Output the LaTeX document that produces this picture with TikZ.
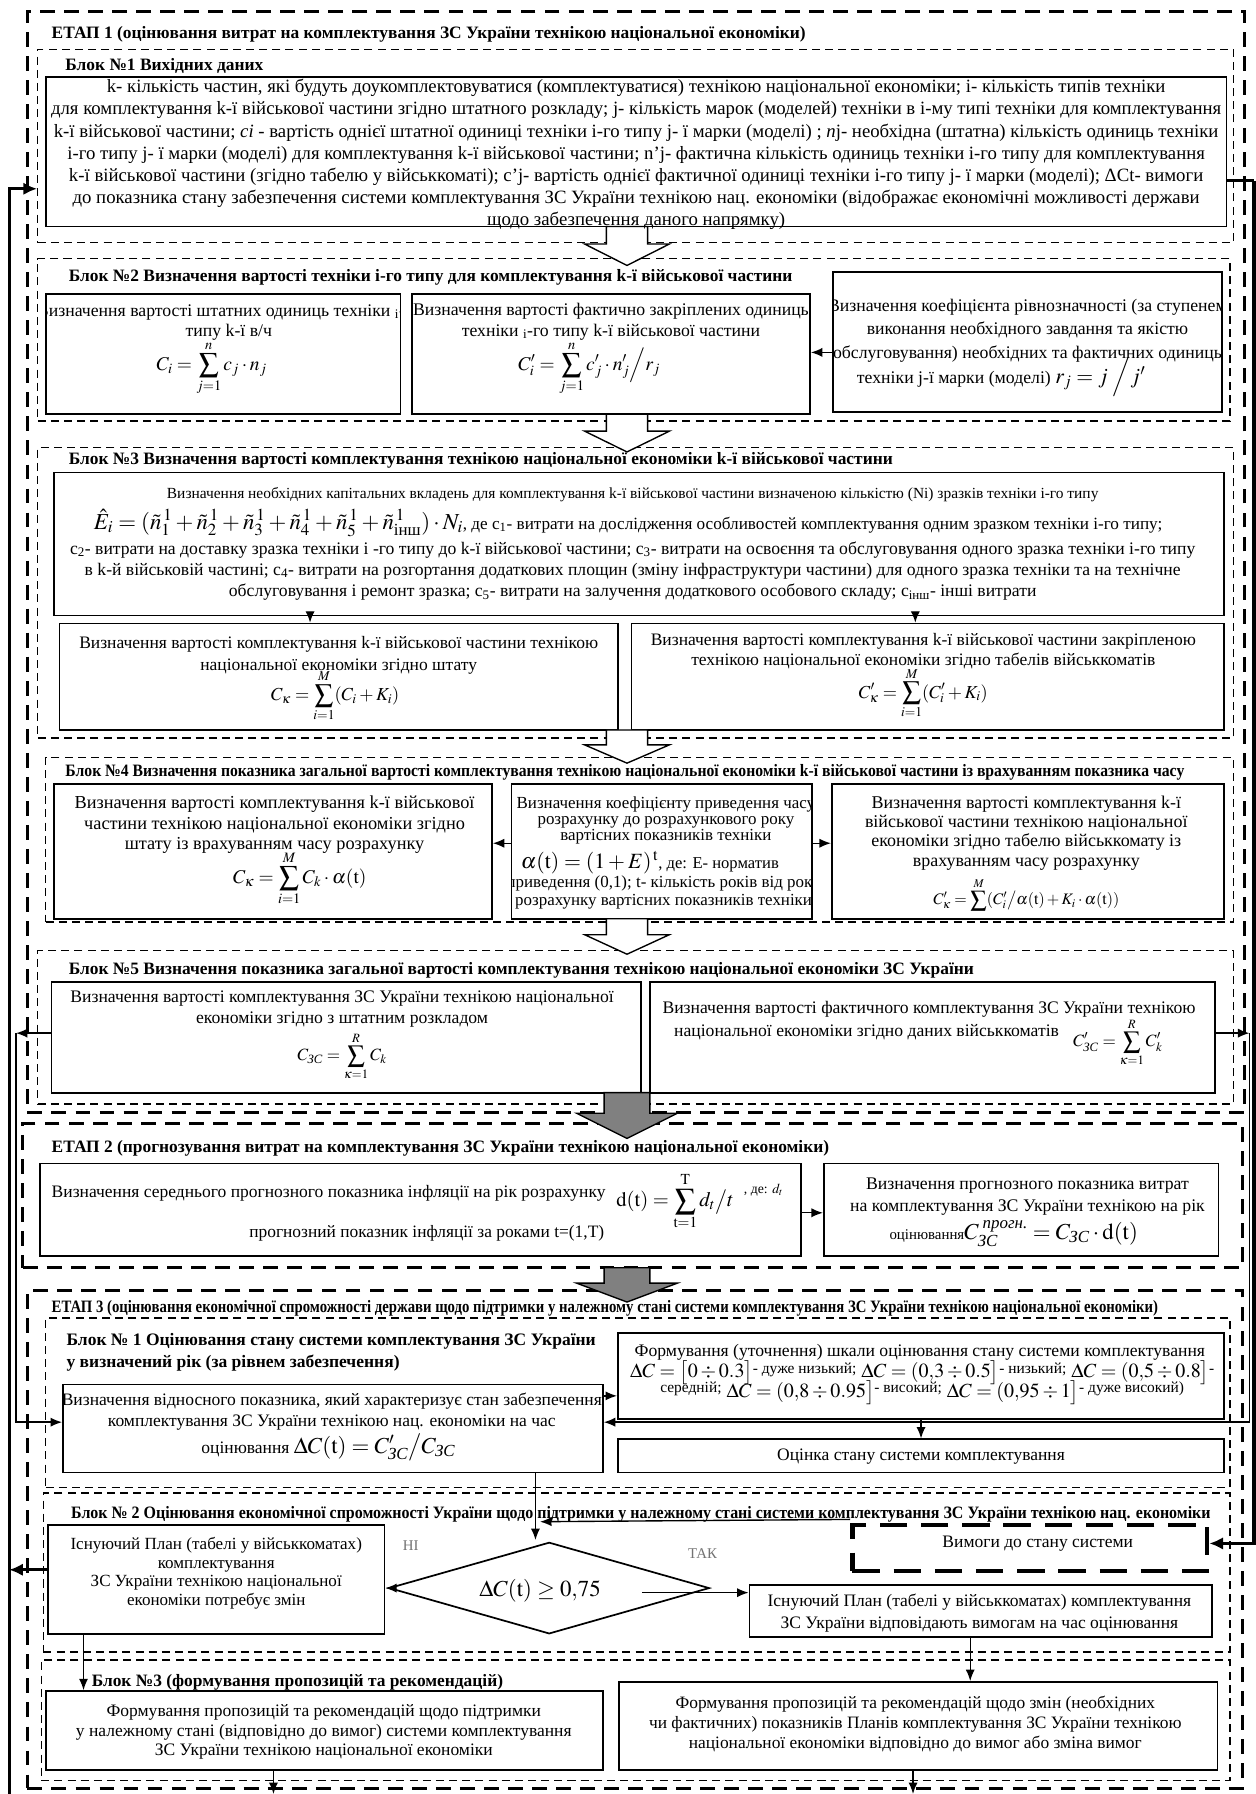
\documentclass[tikz,border=0pt]{standalone}
\usepackage{amsmath}
\usepackage{mathptmx}
\usepackage[no-math]{fontspec}
\setmainfont{Liberation Serif}
\newfontfamily\lser{Liberation Serif}
\usepackage{graphicx}
\usetikzlibrary{arrows.meta,shapes.geometric,calc}
\newcommand\fsz[2]{\lser\fontsize{#1}{#2}\selectfont}
\newcommand\mkrect[6]{\node[#6, inner sep=0pt, minimum width={#4-#2}, minimum height={#5-#3}] (#1) at ({(#2+#4)/2},{(#3+#5)/2}) {};}
\newcommand\blockarrow[5]{\pgfmathsetmacro\hymid{#1+0.45*(#2-#1)}%
 \draw[#3] ({548-#4},#1) -- ({548-#4},\hymid) -- ({548-#5},\hymid) -- (548,#2) -- ({548+#5},\hymid) -- ({548+#4},\hymid) -- ({548+#4},#1) -- cycle;}
\begin{document}
\begin{tikzpicture}[x=1pt,y=-1pt,
  stageframe/.style={draw, line width=2.8pt, dash pattern=on 13pt off 8pt},
  blkframe/.style={draw, line width=1.2pt, dash pattern=on 7pt off 4.5pt},
  bx/.style={draw, line width=1.5pt, fill=white},
  vbox/.style={draw, line width=4pt, dash pattern=on 24pt off 12pt, fill=white},
  txt/.style={inner sep=0pt, align=center},
  ttl/.style={inner sep=0pt, anchor=base west, font=\fsz{15.2}{17}\bfseries},
  conn/.style={line width=1.2pt, -{Latex[length=10pt,width=8pt]}},
  fb/.style={line width=2.8pt},
  fbarrow/.style={line width=2.8pt, -{Latex[length=12pt,width=11pt]}},
  hollow/.style={draw, line width=1.2pt, fill=white},
  grey/.style={draw, line width=1.2pt, fill=black!50},
]
\useasboundingbox (0,0) rectangle (1097,1568);
\fill[white] (0,0) rectangle (1097,1568);

% ---------- stage frames
\mkrect{S1}{24}{10}{1088}{972}{stageframe}
\mkrect{S2}{20}{982}{1086}{1108}{stageframe}
\mkrect{S3}{24}{1128}{1086}{1563}{stageframe}
% ---------- block frames
\mkrect{F1}{33}{43}{1078}{212}{blkframe}
\mkrect{F2}{33}{226}{1075}{368}{blkframe}
\mkrect{F3}{33}{391}{1078}{645}{blkframe}
\mkrect{F4}{40}{662}{1078}{806}{blkframe}
\mkrect{F5}{33}{831}{1078}{965}{blkframe}
\mkrect{G1}{40}{1152}{1075}{1300}{blkframe}
\mkrect{G2}{38}{1305}{1075}{1444}{blkframe}
\mkrect{G3}{36}{1451}{1075}{1556}{blkframe}

% ---------- feedback line coordinates
\coordinate (oL1) at (8,1568);
\coordinate (oL2) at (8,165);
\draw[fbarrow] (oL1) -- (oL2) -- (F1.west |- oL2);
\coordinate (iL1) at (14,903);
\coordinate (iR1) at (1092,903);
\coordinate (oR1) at (1096,158);
\coordinate (oR2) at (1096,1349);

% ---------- boxes
\mkrect{B1}{40}{67}{1072}{198}{bx}
\mkrect{B2L}{40}{257}{350}{362}{bx}
\mkrect{B2M}{360}{257}{708}{362}{bx}
\mkrect{B2R}{728}{238}{1068}{360}{bx}
\mkrect{B3}{47}{413}{1070}{538}{bx}
\mkrect{B3L}{52}{545}{540}{638}{bx}
\mkrect{B3R}{552}{545}{1070}{638}{bx}
\mkrect{B4L}{47}{685}{430}{803}{bx}
\mkrect{B4M}{447}{685}{710}{803}{bx}
\mkrect{B4R}{727}{685}{1070}{803}{bx}
\mkrect{B5L}{45}{858}{560}{955}{bx}
\mkrect{B5R}{568}{858}{1062}{955}{bx}
\mkrect{C2L}{35}{1017}{700}{1098}{bx}
\mkrect{C2R}{720}{1017}{1065}{1098}{bx}
\mkrect{D}{55}{1210}{527}{1287}{bx}
\mkrect{SC}{540}{1165}{1070}{1240}{bx}
\mkrect{OC}{540}{1258}{1070}{1287}{bx}
\mkrect{PL}{42}{1333}{336}{1428}{bx}
\mkrect{RB}{655}{1385}{1059}{1431}{bx}
\mkrect{V}{745}{1333}{1055}{1373}{vbox}
\mkrect{P1}{40}{1478}{527}{1547}{bx}
\mkrect{P2}{541}{1470}{1064}{1547}{bx}
\node[draw, line width=1.5pt, shape=diamond, fill=white, inner sep=0pt, minimum width=280, minimum height=80] (DM) at (480,1388) {};

% ---------- block arrows
\blockarrow{198}{232}{hollow}{18}{37}
\blockarrow{362}{395}{hollow}{18}{37}
\blockarrow{638}{667}{hollow}{18}{37}
\blockarrow{803}{834}{hollow}{18}{37}
\blockarrow{955}{995}{grey}{20}{44}
\blockarrow{1108}{1138}{grey}{20}{44}

% ---------- titles
\node[ttl] (S1t) at (45,34) {ЕТАП 1 (оцінювання витрат на комплектування ЗС України технікою національної економіки)};
\node[ttl] (F1t) at (57,62) {Блок №1 Вихідних даних};
\node[ttl] (F2t) at (60,246) {Блок №2 Визначення вартості техніки і-го типу для комплектування k-ї військової частини};
\node[ttl] (F3t) at (60,406) {Блок №3 Визначення вартості комплектування технікою національної економіки k-ї військової частини};
\node[ttl] (F4t) at (57,679) {\resizebox{978pt}{\height}{Блок №4 Визначення показника загальної вартості комплектування технікою національної економіки k-ї військової частини із врахуванням показника часу}};
\node[ttl] (F5t) at (60,852) {Блок №5 Визначення показника загальної вартості комплектування технікою національної економіки ЗС України};
\node[ttl] (S2t) at (45,1007) {ЕТАП 2 (прогнозування витрат на комплектування ЗС України технікою національної економіки)};
\node[ttl] (S3t) at (45,1147) {\resizebox{967pt}{\height}{ЕТАП 3 (оцінювання економічної спроможності держави щодо підтримки у належному стані системи комплектування ЗС України технікою національної економіки)}};
\node[ttl, font=\fsz{15.3}{18}\bfseries] (G1t) at (58,1176) {Блок № 1 Оцінювання стану системи комплектування ЗС України};
\node[ttl, font=\fsz{15.3}{18}\bfseries] (G1t2) at (58,1195) {у визначений рік (за рівнем забезпечення)};
\node[ttl] (G2t) at (62,1327) {\resizebox{996pt}{\height}{Блок № 2 Оцінювання економічної спроможності України щодо підтримки у належному стані системи комплектування ЗС України технікою нац. економіки}};
\node[ttl] (G3t) at (80,1474) {Блок №3 (формування пропозицій та рекомендацій)};

% ---------- block 1 text
\node[txt, font=\fsz{16.4}{19.3}] (B1t) at (556,135) {k- кількість частин, які будуть доукомплектовуватися (комплектуватися) технікою національної економіки; і- кількість типів техніки\\
для комплектування k-ї військової частини згідно штатного розкладу; j- кількість марок (моделей) техніки в і-му типі техніки для комплектування\\
k-ї військової частини; \textit{сі} - вартість однієї штатної одиниці техніки і-го типу j- ї марки (моделі) ; \textit{n}j- необхідна (штатна) кількість одиниць техніки\\
і-го типу j- ї марки (моделі) для комплектування k-ї військової частини; n’j- фактична кількість одиниць техніки і-го типу для комплектування\\
k-ї військової частини (згідно табелю у військкоматі); c’j- вартість однієї фактичної одиниці техніки і-го типу j- ї марки (моделі); ΔCt- вимоги\\
до показника стану забезпечення системи комплектування ЗС України технікою нац. економіки (відображає економічні можливості держави\\
щодо забезпечення даного напрямку)};

% ---------- block 2 text
\begin{scope}
\clip (40,257) rectangle (350,362);
\node[txt, font=\fsz{15.5}{18}] (B2Lt) at (200,282) {Визначення вартості штатних одиниць техніки $_{\text{і}}$-го\\типу k-ї в/ч};
\end{scope}
\node[txt, font=\fsz{17}{20}] (B2Lf) at (185,322) {$\displaystyle C_{i} = \sum_{j=1}^{n} c_{j}\cdot n_{j}$};
\node[txt, font=\fsz{15.5}{18}] (B2Mt) at (534,281) {Визначення вартості фактично закріплених одиниць\\техніки $_{\text{і}}$-го типу k-ї військової частини};
\node[txt, font=\fsz{17}{20}] (B2Mf) at (515,322) {$\displaystyle C'_{i} = \sum_{j=1}^{n} c'_{j}\cdot n'_{j}\Big/ r_{j}$};
\begin{scope}
\clip (728,238) rectangle (1068,360);
\node[txt, font=\fsz{15.5}{20.5}] (B2Rt) at (898,289) {Визначення коефіцієнта рівнозначності (за ступенем\\виконання необхідного завдання та якістю\\обслуговування) необхідних та фактичних одиниць};
\node[txt, font=\fsz{15.5}{18}] (B2Rf) at (875,330) {техніки j-ї марки (моделі) {\fsz{19}{20}$r_{j} = j\;\Big/ j'$}};
\end{scope}

% ---------- block 3 text
\node[txt, font=\fsz{13.5}{18}] (B3t1) at (553,432) {Визначення необхідних капітальних вкладень для комплектування k-ї військової частини визначеною кількістю (Ni) зразків техніки і-го типу};
\node[txt] (B3f) at (549,457) {{\fsz{20}{22}$\hat{E}_{i} = (\tilde{n}^{\,1}_{1}+\tilde{n}^{\,1}_{2}+\tilde{n}^{\,1}_{3}+\tilde{n}^{\,1}_{4}+\tilde{n}^{\,1}_{5}+\tilde{n}^{\,1}_{\text{інш}})\cdot N_{i}$}{\fsz{15}{15}, де c\textsubscript{1}- витрати на дослідження особливостей комплектування одним зразком техніки і-го типу;}};
\node[txt, font=\fsz{15.4}{18.5}] (B3t2) at (553,499) {c\textsubscript{2}- витрати на доставку зразка техніки і -го типу до k-ї військової частини; c\textsubscript{3}- витрати на освоєння та обслуговування одного зразка техніки і-го типу\\
в k-й військовій частині; c\textsubscript{4}- витрати на розгортання додаткових площин (зміну інфраструктури частини) для одного зразка техніки та на технічне\\
обслуговування і ремонт зразка; c\textsubscript{5}- витрати на залучення додаткового особового складу; c\textsubscript{інш}- інші витрати};
\node[txt, font=\fsz{15.3}{19}] (B3Lt) at (296,573) {Визначення вартості комплектування k-ї військової частини технікою\\національної економіки згідно штату};
\node[txt, font=\fsz{16}{16}] (B3Lf) at (293,608) {$\displaystyle C_{\kappa} = \sum_{i=1}^{M} (C_{i} + K_{i})$};
\node[txt, font=\fsz{15.3}{18}] (B3Rt) at (807,569) {Визначення вартості комплектування k-ї військової частини закріпленою\\технікою національної економіки згідно табелів військкоматів};
\node[txt, font=\fsz{16}{16}] (B3Rf) at (807,606) {$\displaystyle C'_{\kappa} = \sum_{i=1}^{M} (C'_{i} + K_{i})$};

% ---------- block 4 text
\node[txt, font=\fsz{16}{18}] (B4Lt) at (240,721) {Визначення вартості комплектування k-ї військової\\частини технікою національної економіки згідно\\штату із врахуванням часу розрахунку};
\node[txt, font=\fsz{17}{18}] (B4Lf) at (262,768) {$\displaystyle C_{\kappa} = \sum_{i=1}^{M} C_{k}\cdot \alpha(\mathrm{t})$};
\begin{scope}
\clip (447,685) rectangle (710,803);
\node[txt, font=\fsz{14.8}{14.2}] (B4Mt) at (582,717) {Визначення коефіцієнту приведення часу\\розрахунку до розрахункового року\\вартісних показників техніки};
\node[txt, font=\fsz{14.5}{15}] (B4Mf) at (568,754) {{\fsz{19}{20}$\alpha(\mathrm{t}) = (1+E)^{\,\mathrm{t}}$}, де: E- норматив};
\node[txt, font=\fsz{14.8}{15}] (B4Mt2) at (580,780) {приведення (0,1); t- кількість років від року\\розрахунку вартісних показників техніки};
\end{scope}
\node[txt, font=\fsz{15.7}{17}] (B4Rt) at (897,728) {Визначення вартості комплектування k-ї\\військової частини технікою національної\\економіки згідно табелю військкомату із\\врахуванням часу розрахунку};
\node[txt, font=\fsz{14}{15}] (B4Rf) at (897,782) {$\displaystyle C'_{\kappa} = \sum^{M} (C'_{i}\big/\alpha(\mathrm{t}) + K_{i}\cdot\alpha(\mathrm{t}))$};

% ---------- block 5 text
\node[txt, font=\fsz{15.4}{18}] (B5Lt) at (299,882) {Визначення вартості комплектування ЗС України технікою національної\\економіки згідно з штатним розкладом};
\node[txt, font=\fsz{15}{15}] (B5Lf) at (299,923) {$\displaystyle C_{\textit{ЗС}} = \sum_{\kappa=1}^{R} C_{k}$};
\node[txt, font=\fsz{15.4}{18}] (B5Rt) at (812,882) {Визначення вартості фактичного комплектування ЗС України технікою};
\node[txt, font=\fsz{15.4}{18}, anchor=west] (B5Rt2) at (589,902) {національної економіки згідно даних військкоматів};
\node[txt, font=\fsz{15}{15}] (B5Rf) at (977,911) {$\displaystyle C'_{\textit{ЗС}} = \sum_{\kappa=1}^{R} C'_{k}$};

% ---------- stage 2 text
\node[txt, font=\fsz{15.3}{18}, anchor=west] (C2Lt) at (45,1043) {Визначення середнього прогнозного показника інфляції на рік розрахунку};
\node[txt, font=\fsz{18}{20}] (C2Lf) at (590,1050) {$\displaystyle \mathrm{d}(\mathrm{t}) = \sum_{\mathrm{t}=1}^{\mathrm{T}} d_{t}\big/ t$};
\node[txt, font=\fsz{12}{14}, anchor=west] (C2Lf2) at (650,1040) {, де: $d_{t}$};
\node[txt, font=\fsz{15.2}{18}] (C2Lt2) at (373,1078) {прогнозний показник інфляції за роками t=(1,T)};
\node[txt, font=\fsz{15.5}{19}] (C2Rt) at (898,1046) {Визначення прогнозного показника витрат\\на комплектування ЗС України технікою на рік};
\node[txt, font=\fsz{20}{20}] (C2Rf) at (886,1078) {{\fsz{13}{14}оцінювання}$C^{\;\textit{прогн.}}_{\textit{ЗС}} = C_{\textit{ЗС}}\cdot \mathrm{d}(\mathrm{t})$};

% ---------- stage 3 text
\node[txt, font=\fsz{15.3}{18}] (Dt) at (290,1234) {Визначення відносного показника, який характеризує стан забезпечення\\комплектування ЗС України технікою нац. економіки на час};
\node[txt, font=\fsz{15.3}{18}] (Df) at (287,1265) {оцінювання {\fsz{20}{22}$\Delta C(\mathrm{t}) = C'_{\textit{ЗС}}\big/C_{\textit{ЗС}}$}};
\node[txt, font=\fsz{15.4}{16}] (SCt1) at (804,1182) {Формування (уточнення) шкали оцінювання стану системи комплектування};
\node[txt, font=\fsz{17.5}{16}] (SCt2) at (806,1200) {$\Delta C = \big[0 \div 0.3\big]$\raisebox{4pt}{\fsz{13.5}{12}- дуже низький;} $\Delta C = (0{,}3 \div 0.5\big]$\raisebox{4pt}{\fsz{13.5}{12}- низький;} $\Delta C = (0{,}5 \div 0.8\big]$\raisebox{4pt}{\fsz{13.5}{12}-}};
\node[txt, font=\fsz{17.5}{16}] (SCt3) at (806,1217) {\raisebox{4pt}{\fsz{13.5}{12}середній;} $\Delta C = (0{,}8 \div 0.95\big]$\raisebox{4pt}{\fsz{13.5}{12}- високий;} $\Delta C = (0{,}95 \div 1\big]$\raisebox{4pt}{\fsz{13.5}{12}- дуже високий)}};
\node[txt, font=\fsz{15.3}{16}] (OCt) at (805,1273) {Оцінка стану системи комплектування};
\node[txt, font=\fsz{14.9}{16.5}] (PLt) at (189,1375) {Існуючий План (табелі у військкоматах)\\комплектування\\ЗС України технікою національної\\економіки потребує змін};
\node[txt, font=\fsz{20}{22}] (DMt) at (472,1390) {$\Delta C(\mathrm{t}) \geq 0{,}75$};
\node[txt, font=\fsz{13}{15}, text=black!55] (NI) at (359,1351) {НІ};
\node[txt, font=\fsz{13}{15}, text=black!55] (TAK) at (614,1358) {ТАК};
\node[txt, font=\fsz{15.3}{19}] (RBt) at (856,1410) {Існуючий План (табелі у військкоматах) комплектування\\ЗС України відповідають вимогам на час оцінювання};
\node[txt, font=\fsz{15.3}{16}] (Vt) at (907,1349) {Вимоги до стану системи};
\node[txt, font=\fsz{15.3}{17}] (P1t) at (283,1514) {Формування пропозицій та рекомендацій щодо підтримки\\у належному стані (відповідно до вимог) системи комплектування\\ЗС України технікою національної економіки};
\node[txt, font=\fsz{15.2}{17.5}] (P2t) at (800,1507) {Формування пропозицій та рекомендацій щодо змін (необхідних\\чи фактичних) показників Планів комплектування ЗС України технікою\\національної економіки відповідно до вимог або зміна вимог};

% ---------- connectors
\draw[conn] (B2R.west |- 0,308) -- (B2M.east |- 0,308);
\draw[conn] (271,0 |- B3.south) -- (271,0 |- B3L.north);
\draw[conn] (800,0 |- B3.south) -- (800,0 |- B3R.north);
\draw[conn] (B4M.west |- 0,737) -- (B4L.east |- 0,737);
\draw[conn] (B4M.east |- 0,737) -- (B4R.west |- 0,737);
\draw[conn] (C2L.east |- 0,1060) -- (C2R.west |- 0,1060);
\draw[conn] (D.east |- 0,1220) -- (SC.west |- 0,1220);
\draw[conn] (805,0 |- SC.south) -- (805,0 |- OC.north);
\coordinate (dmTop) at (468,1346);
\draw[conn] (468,0 |- D.south) -- (dmTop);
\coordinate (vL) at (472,1330);
\draw[conn] (V.north west) ++(0,-3) -- (vL);
\draw[conn] (561,1392) -- (RB.west |- 0,1392);
\draw[conn] (DM.west) -- (PL.east |- DM.west);
\draw[conn] (73,0 |- PL.south) -- (73,0 |- P1.north);
\draw[conn] (848,0 |- RB.south) -- (848,0 |- P2.north);
\coordinate (bot1) at (239,1568);
\coordinate (bot2) at (798,1568);
\draw[conn] (239,0 |- P1.south) -- (bot1);
\draw[conn] (798,0 |- P2.south) -- (bot2);
\draw[fbarrow] (PL.west |- 0,1372) -- (oL1 |- 0,1372);
\draw[conn] (B5L.west |- iL1) -- (iL1);
\draw[conn] (iL1) |- (D.west |- 0,1243);
\draw[conn] (B5R.east |- iR1) -- (iR1);
\draw[conn] (iR1) |- (D.east |- 0,1243);
\draw[fb] (B1.east |- oR1) -- (oR1);
\draw[fbarrow] (oR1) -- (oR2) -- (V.east |- oR2);
\end{tikzpicture}
\end{document}
